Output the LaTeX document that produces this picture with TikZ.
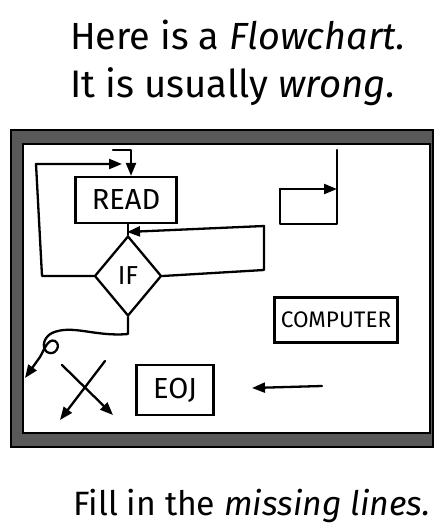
\documentclass[tikz,border=0pt]{standalone}
\usepackage{fontspec}
\setmainfont{Fira Sans}
\usetikzlibrary{arrows.meta,shapes.geometric}
\tikzset{
  ln/.style={line width=2.3pt, line join=round, line cap=round},
  arr/.style={ln, -{Triangle[length=13pt,width=10pt]}},
  boxnode/.style={draw, line width=2.3pt, inner sep=0pt},
  title/.style={inner sep=0pt, anchor=base west}
}
\begin{document}
\begin{tikzpicture}[x=1pt,y=-1pt]
\useasboundingbox (0,0) rectangle (433,529);
% titles
\node[title] (t1) at (70,50) {\resizebox{335pt}{!}{\fontsize{36}{36}\selectfont\strut Here is a \textit{Flowchart.}}};
\node[title] (t2) at (70,98) {\resizebox{325pt}{!}{\fontsize{36}{36}\selectfont\strut It is usually \textit{wrong.}}};
\node[title] (t3) at (73,515) {\resizebox{357pt}{!}{\fontsize{36}{36}\selectfont\strut Fill in the \textit{missing lines.}}};
% frame
\fill[black!65] (11,130) rectangle (433,447);
\draw[line width=1.2pt] (11,130) rectangle (433,447);
\fill[white] (23,144) rectangle (430,433);
\draw[line width=1.2pt] (23,144) rectangle (430,433);
% nodes
\node[boxnode, minimum width=101pt, minimum height=46pt, font=\fontsize{29}{29}\selectfont] (read) at (126,200) {READ};
\node[boxnode, diamond, minimum width=67pt, minimum height=80pt, font=\fontsize{26}{26}\selectfont] (dec) at (128,276) {IF};
\node[boxnode, minimum width=123pt, minimum height=45pt, font=\fontsize{22.5}{22.5}\selectfont] (comp) at (336,320) {COMPUTER};
\node[boxnode, minimum width=77pt, minimum height=50pt, font=\fontsize{29}{29}\selectfont] (eoj) at (175,390) {EOJ};
% coordinates
\coordinate (la) at (42,276);
\coordinate (lb) at (36,164);
\coordinate (lc) at (122,164);
\coordinate (ha) at (113,150);
\coordinate (hb) at (131,150);
\coordinate (ra) at (264,270);
\coordinate (rb) at (264,226);
\coordinate (rc) at (127,232);
\coordinate (ta) at (337,150);
\coordinate (tb) at (337,224);
\coordinate (tc) at (280,224);
\coordinate (td) at (280,189);
\coordinate (te) at (337,189);
\coordinate (ca) at (128,334);
\coordinate (ct) at (25,378);
\coordinate (xa1) at (62,365);
\coordinate (xa2) at (113,415);
\coordinate (xb1) at (105,361);
\coordinate (xb2) at (60,420);
\coordinate (aa) at (322,386);
\coordinate (ab) at (252,388);
% connectors
\draw[arr] (dec.west) -- (la) -- (lb) -- (lc);
\draw[arr] (ha) -- (hb) -- (hb |- read.north);
\draw[ln] (read.south -| dec.north) -- (dec.north);
\draw[arr] (dec.east) -- (ra) -- (rb) -- (rc);
\draw[ln] (ta) -- (tb) -- (tc) -- (td);
\draw[arr] (td) -- (te);
\draw[arr] (dec.south) -- (ca) .. controls (95,337) and (72,324) .. (52,333)
  .. controls (44,337) and (41,347) .. (47,352)
  .. controls (55,357) and (62,345) .. (55,341)
  .. controls (48,338) and (44,350) .. (40,357) -- (ct);
\draw[arr] (xa1) -- (xa2);
\draw[arr] (xb1) -- (xb2);
\draw[arr] (aa) -- (ab);
\end{tikzpicture}
\end{document}
